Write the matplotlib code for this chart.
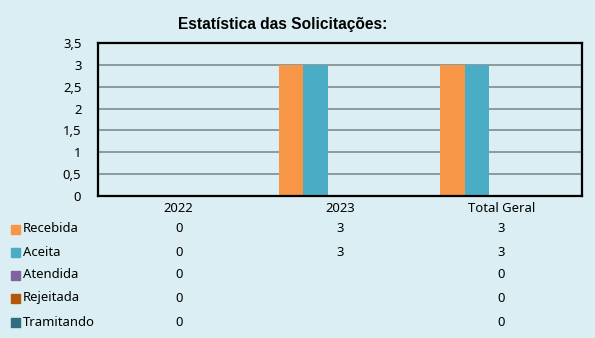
import numpy as np
import matplotlib
matplotlib.use("Agg")
import matplotlib.pyplot as plt
from matplotlib.patches import Rectangle

categories = ["2022", "2023", "Total Geral"]
series_names = ["Recebida", "Aceita", "Atendida", "Rejeitada", "Tramitando"]
recebida = [0, 3, 3]
aceita = [0, 3, 3]
atendida = [0, None, 0]
rejeitada = [0, None, 0]
tramitando = [0, None, 0]
series_values = [recebida, aceita, atendida, rejeitada, tramitando]
colors = ["#F79646", "#4BACC6", "#8064A2", "#B65708", "#2E6E80"]
yticks = [0, 0.5, 1, 1.5, 2, 2.5, 3, 3.5]
ytick_labels = ["0", "0,5", "1", "1,5", "2", "2,5", "3", "3,5"]

bg = "#DAEEF3"
font = "Noto Sans"
fs = 9.4

fig = plt.figure(figsize=(5.95, 3.38), dpi=100, facecolor=bg)
ax = fig.add_axes([98/595, 1-196/338, (582-98)/595, (196-43)/338], facecolor=bg)

n = len(series_names)
w = 1 / (n + 1.6)
x = np.arange(len(categories))
for i, (vals, c) in enumerate(zip(series_values, colors)):
    v = [np.nan if val is None else val for val in vals]
    ax.bar(x - n*w/2 + (i+0.5)*w, v, width=w, color=c, zorder=3)

ax.set_xlim(-0.5, len(categories) - 0.5)
ax.set_ylim(0, 3.5)
ax.set_yticks(yticks)
ax.set_yticklabels(ytick_labels, fontsize=fs, family=font)
ax.set_xticks([])
ax.tick_params(axis="y", length=0, pad=12)
ax.yaxis.grid(True, color="#7F8C8D", linewidth=1.2, zorder=1)
for s in ax.spines.values():
    s.set_color("black")
    s.set_linewidth(1.6)
    s.set_zorder(4)

fig.text(283/595, 1-25/338, "Estatística das Solicitações:", ha="center", va="center",
         fontsize=11.2, fontweight="bold", family="Liberation Sans")

trans = matplotlib.transforms.blended_transform_factory(ax.transData, fig.transFigure)
for j, cat in enumerate(categories):
    ax.text(j, 1-208/338, cat, transform=trans, ha="center", va="center",
            fontsize=fs, family=font, clip_on=False)

row_y = [229, 252, 275, 298, 322]
for i, (name, vals, c) in enumerate(zip(series_names, series_values, colors)):
    yy = 1 - row_y[i]/338
    fig.patches.append(Rectangle((11/595, yy - 4.5/338), 9/595, 9/338,
                                 transform=fig.transFigure, color=c))
    fig.text(23/595, yy, name, ha="left", va="center", fontsize=fs, family=font)
    for j, val in enumerate(vals):
        if val is None:
            continue
        ax.text(j, yy, f"{val}", transform=trans, ha="center", va="center",
                fontsize=fs, family=font, clip_on=False)

fig.savefig("out.png", dpi=100, facecolor=bg)
